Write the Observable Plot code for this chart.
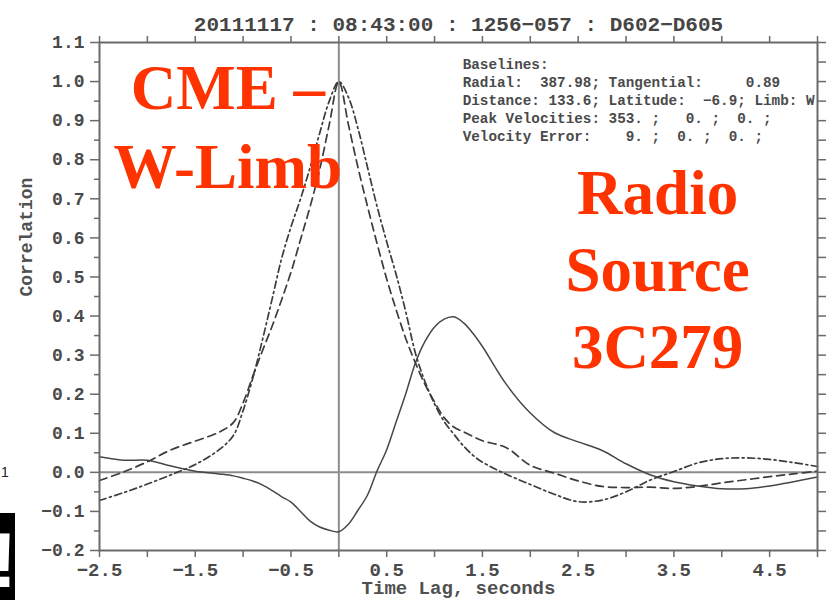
<!DOCTYPE html>
<html>
<head>
<meta charset="utf-8">
<script src="https://cdn.jsdelivr.net/npm/d3@7"></script>
<script src="https://cdn.jsdelivr.net/npm/@observablehq/plot@0.6"></script>
<style>
  html, body { margin: 0; padding: 0; background: #fff; }
  #chart { position: relative; width: 840px; height: 600px; overflow: hidden; background: #fff; }
  #chart svg text { white-space: pre; }
  #art { position: absolute; left: 0; top: 0; }
</style>
</head>
<body>
<div id="chart"></div>
<script>
// ---- data ----
const lag = [-2.5, -2.25, -2.0, -1.75, -1.5, -1.25, -1.1, -1.0, -0.9, -0.8, -0.7, -0.6, -0.5, -0.4, -0.3, -0.2, -0.1, 0.0,
             0.1, 0.2, 0.3, 0.4, 0.5, 0.6, 0.7, 0.8, 0.9, 1.0, 1.1, 1.2, 1.3, 1.4, 1.5, 1.75, 2.0, 2.25, 2.5, 2.75,
             3.0, 3.25, 3.5, 3.75, 4.0, 4.25, 4.5, 4.75, 5.0];

const solidCorr = [0.040, 0.031, 0.031, 0.016, 0.003, -0.004, -0.009, -0.015, -0.022, -0.032, -0.046, -0.062, -0.076, -0.100, -0.125, -0.140, -0.148, -0.152,
                   -0.133, -0.097, -0.058, 0.004, 0.058, 0.130, 0.202, 0.280, 0.335, 0.372, 0.392, 0.398, 0.383, 0.356, 0.322, 0.225, 0.152, 0.102, 0.078, 0.056,
                   0.022, -0.006, -0.024, -0.035, -0.042, -0.042, -0.035, -0.024, -0.012];

const dashedCorr = [-0.021, 0.001, 0.027, 0.058, 0.080, 0.103, 0.128, 0.178, 0.245, 0.310, 0.372, 0.440, 0.512, 0.596, 0.680, 0.775, 0.890, 1.000,
                    0.890, 0.780, 0.680, 0.585, 0.495, 0.415, 0.342, 0.280, 0.225, 0.180, 0.140, 0.116, 0.104, 0.092, 0.081, 0.063, 0.018, -0.002, -0.022, -0.036,
                    -0.039, -0.038, -0.041, -0.036, -0.027, -0.019, -0.011, -0.004, 0.003];

const dashdotCorr = [-0.072, -0.052, -0.030, -0.006, 0.020, 0.058, 0.095, 0.158, 0.240, 0.337, 0.440, 0.545, 0.628, 0.700, 0.780, 0.868, 0.950, 1.000,
                     0.960, 0.880, 0.780, 0.680, 0.590, 0.505, 0.410, 0.305, 0.232, 0.175, 0.130, 0.098, 0.068, 0.044, 0.026, -0.005, -0.031, -0.056, -0.075, -0.071,
                     -0.050, -0.020, 0.002, 0.024, 0.035, 0.037, 0.033, 0.025, 0.015];

const xTickLabels = [-2.5, -1.5, -0.5, 0.5, 1.5, 2.5, 3.5, 4.5];
const xMinorTicks = [-2.0, -1.0, 0.0, 1.0, 2.0, 3.0, 4.0, 5.0];
const yTickLabels = [-0.2, -0.1, 0.0, 0.1, 0.2, 0.3, 0.4, 0.5, 0.6, 0.7, 0.8, 0.9, 1.0, 1.1];
const yMinorTicks = [-0.15, -0.05, 0.05, 0.15, 0.25, 0.35, 0.45, 0.55, 0.65, 0.75, 0.85, 0.95, 1.05];

const titleText = "20111117 : 08:43:00 : 1256\u2212057 : D602\u2212D605";
const xLabel = "Time Lag, seconds";
const yLabel = "Correlation";
const infoLines = [
  "Baselines:",
  "Radial:  387.98; Tangential:     0.89",
  "Distance: 133.6; Latitude:  \u22126.9; Limb: W",
  "Peak Velocities: 353. ;   0. ;  0. ;",
  "Velocity Error:    9. ;  0. ;  0. ;"
];
const noteCME = ["CME \u2013", "W-Limb"];
const noteRadio = ["Radio", "Source", "3C279"];

// ---- chart ----
const mono = "'Liberation Mono', 'DejaVu Sans Mono', monospace";
const serif = "'Liberation Serif', 'DejaVu Serif', serif";
const fmt = d3.format(".1f");
const axisColor = "#6a6a6a";
const textColor = "#4a4a4a";
const red = "#ff3300";

const chart = Plot.plot({
  width: 840,
  height: 600,
  marginLeft: 99,
  marginRight: 23,
  marginTop: 42,
  marginBottom: 50,
  style: { background: "#fff", fontFamily: mono },
  x: { domain: [-2.5, 5.0] },
  y: { domain: [-0.2, 1.1] },
  marks: [
    Plot.ruleY([0], { stroke: "#8c8c8c", strokeWidth: 2 }),
    Plot.ruleX([0], { stroke: "#8c8c8c", strokeWidth: 2 }),

    Plot.line(lag, { x: lag, y: solidCorr, curve: "catmull-rom", stroke: "#474747", strokeWidth: 1.5 }),
    Plot.line(lag, { x: lag, y: dashedCorr, curve: "catmull-rom", stroke: "#3c3c3c", strokeWidth: 1.7, strokeDasharray: "8,5" }),
    Plot.line(lag, { x: lag, y: dashdotCorr, curve: "catmull-rom", stroke: "#3c3c3c", strokeWidth: 1.7, strokeDasharray: "7,3.5,2,3.5" }),

    Plot.frame({ stroke: axisColor, strokeWidth: 2 }),

    // bottom axis
    Plot.axisX({ anchor: "bottom", ticks: xTickLabels, tickSize: 7, tickPadding: 5, tickFormat: fmt,
                 fontSize: 19, fontFamily: mono, fontWeight: "bold", color: textColor, stroke: axisColor, strokeWidth: 1.5, label: null }),
    Plot.axisX({ anchor: "bottom", ticks: xMinorTicks, tickSize: 7, tickFormat: () => "",
                 stroke: axisColor, strokeWidth: 1.5, label: null }),
    // top axis
    Plot.axisX({ anchor: "top", ticks: xTickLabels.concat(xMinorTicks), tickSize: 7, tickFormat: () => "",
                 stroke: axisColor, strokeWidth: 1.5, label: null }),
    // left axis
    Plot.axisY({ anchor: "left", ticks: yTickLabels, tickSize: 9, tickPadding: 6, tickFormat: fmt,
                 fontSize: 18, fontFamily: mono, fontWeight: "bold", color: textColor, stroke: axisColor, strokeWidth: 1.5, label: null }),
    Plot.axisY({ anchor: "left", ticks: yMinorTicks, tickSize: 5, tickFormat: () => "",
                 stroke: axisColor, strokeWidth: 1.5, label: null }),
    // right axis
    Plot.axisY({ anchor: "right", ticks: yTickLabels.concat(yMinorTicks), tickSize: 8, tickFormat: () => "",
                 stroke: axisColor, strokeWidth: 1.5, label: null }),

    // title & axis labels
    Plot.text([titleText], { text: d => d, frameAnchor: "top", dy: -12, lineAnchor: "bottom",
                             fontSize: 21, fontFamily: mono, fontWeight: "bold", fill: "#454545" }),
    Plot.text([xLabel], { text: d => d, frameAnchor: "bottom", dy: 43, lineAnchor: "bottom",
                          fontSize: 19, fontFamily: mono, fontWeight: "bold", fill: "#505050" }),
    Plot.text([yLabel], { text: d => d, frameAnchor: "left", dx: -68, rotate: -90, lineAnchor: "bottom",
                          fontSize: 18, fontFamily: mono, fontWeight: "bold", fill: "#505050" }),

    // info block
    Plot.text([infoLines.join("\n")], { text: d => d, x: () => 1.294, y: () => 0.8486, textAnchor: "start",
                                        lineAnchor: "bottom", lineHeight: 1.26, fontSize: 14.3, fontFamily: mono,
                                        fontWeight: "bold", fill: "#4a4a4a" }),

    // red annotations
    Plot.text([noteCME.join("\n")], { text: d => d, x: () => -1.16, y: () => 0.728, textAnchor: "middle",
                                      lineAnchor: "bottom", lineHeight: 1.254, fontSize: 63, fontFamily: serif,
                                      fontWeight: "bold", fill: red }),
    Plot.text([noteRadio.join("\n")], { text: d => d, x: () => 3.33, y: () => 0.268, textAnchor: "middle",
                                        lineAnchor: "bottom", lineHeight: 1.222, fontSize: 63, fontFamily: serif,
                                        fontWeight: "bold", fill: red })
  ]
});

const host = document.getElementById("chart");
host.appendChild(chart);

// cropped slide remnants along the left edge of the reference image
host.insertAdjacentHTML("beforeend",
  '<svg id="art" width="20" height="600">' +
  '<text x="1" y="477" font-family="Liberation Sans" font-size="14" fill="#222">1</text>' +
  '<rect x="0" y="513" width="15" height="87" fill="#000"></rect>' +
  '<text x="-9" y="587" font-family="Liberation Sans" font-weight="bold" font-size="78" fill="#fff">!</text>' +
  '</svg>');
</script>
</body>
</html>
